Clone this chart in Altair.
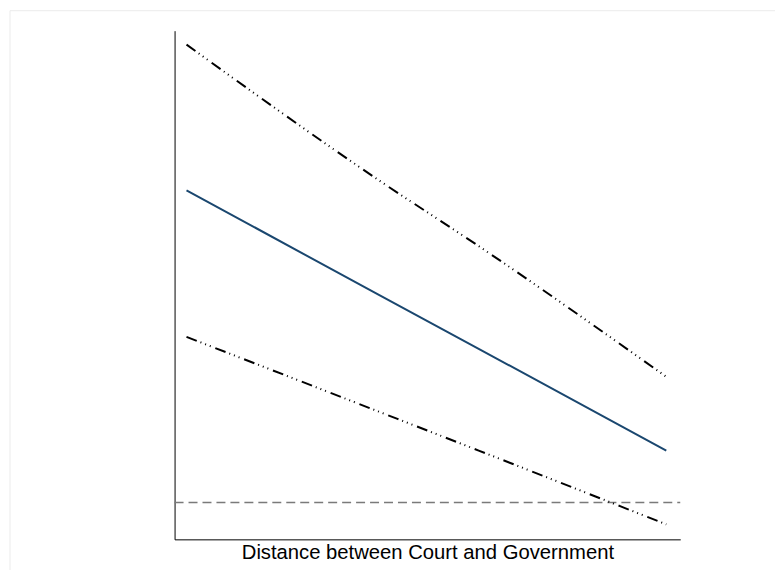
import altair as alt
import pandas as pd

# Distance between court and government (scaled 0..1)
x_vals = [0.0, 0.401, 0.609, 1.0]
# Estimated marginal effect and 95% CI bounds
effect = [3.13, 2.08, 1.54, 0.52]
upper = [4.59, 3.23, 2.57, 1.26]
lower = [1.66, 0.91, 0.52, -0.22]
zero_line = [0.0]

df = pd.DataFrame({"x": x_vals, "effect": effect, "upper": upper, "lower": lower})
zdf = pd.DataFrame({"y": zero_line})

xs = alt.Scale(domain=[-0.0249, 1.0291], nice=False, zero=False)
ys = alt.Scale(domain=[-0.37, 4.73], nice=False, zero=False)

xax = alt.Axis(title="Distance between Court and Government", labels=False, ticks=False,
               grid=False, domainColor="black", domainWidth=1, titleFont="Liberation Sans",
               titleFontSize=20.3, titleFontWeight="normal", titleColor="black", titlePadding=3)
yax = alt.Axis(title=None, labels=False, ticks=False, grid=False, domainColor="black", domainWidth=1)

frame = alt.Chart(pd.DataFrame({"a": [0]})).mark_rect(
    fill=None, stroke="#ebebeb", strokeWidth=1
).encode(x=alt.value(-165), x2=alt.value(900), y=alt.value(-20), y2=alt.value(700))

base = alt.Chart(df)

mid = base.mark_line(color="#1a476f", strokeWidth=2).encode(
    x=alt.X("x:Q", scale=xs, axis=xax),
    y=alt.Y("effect:Q", scale=ys, axis=yax),
)
up = base.mark_line(color="black", strokeWidth=2, interpolate="monotone",
                    strokeDash=[11, 4, 1, 4, 1, 4, 1, 5]).encode(
    x=alt.X("x:Q", scale=xs), y=alt.Y("upper:Q", scale=ys)
)
lo = base.mark_line(color="black", strokeWidth=2, interpolate="monotone",
                    strokeDash=[11, 4, 1, 4, 1, 4, 1, 5]).encode(
    x=alt.X("x:Q", scale=xs), y=alt.Y("lower:Q", scale=ys)
)
zero = alt.Chart(zdf).mark_rule(color="#7a7a7a", strokeWidth=1.5, strokeDash=[9, 5]).encode(
    y=alt.Y("y:Q", scale=ys), x=alt.value(0), x2=alt.value(507)
)

chart = alt.layer(frame, zero, mid, up, lo).properties(
    width=507, height=510,
    background="white",
    autosize=alt.AutoSizeParams(type="none"),
    padding={"left": 167, "top": 22, "right": 95, "bottom": 30},
).configure_view(strokeWidth=0, stroke="transparent")

chart.save("out.html", embed_options={"renderer": "svg", "actions": False})
